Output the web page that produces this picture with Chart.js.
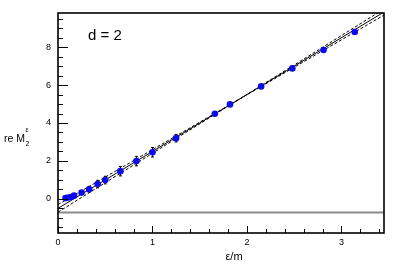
<!DOCTYPE html>
<html>
<head>
<meta charset="utf-8">
<script src="https://cdn.jsdelivr.net/npm/chart.js@4.4.1/dist/chart.umd.min.js"></script>
<style>
html,body{margin:0;padding:0;background:#fff;}
#wrap{width:407px;height:276px;}
</style>
</head>
<body>
<div id="wrap"><canvas id="c" width="407" height="276"></canvas></div>
<script>
// ---- data ----
const epsOverM = [0.08, 0.11, 0.14, 0.17, 0.25, 0.33, 0.42, 0.50, 0.66, 0.83, 1.00, 1.25, 1.66, 1.82, 2.15, 2.48, 2.81, 3.14];
const reM2     = [0.04, 0.07, 0.10, 0.17, 0.33, 0.51, 0.78, 0.99, 1.46, 1.99, 2.46, 3.20, 4.49, 4.98, 5.93, 6.88, 7.85, 8.80];
const reM2Err  = [0.03, 0.03, 0.03, 0.04, 0.08, 0.15, 0.20, 0.20, 0.25, 0.25, 0.25, 0.20, 0.08, 0.06, 0.05, 0.05, 0.05, 0.05];
const fitX      = [0, 3.45];
const fitY      = [-0.50, 9.85];
const bandAY    = [-0.30, 9.69];
const bandBY    = [-0.70, 10.01];
const refLineY  = [-0.72, -0.72];
const xTicks = [0, 1, 2, 3];
const yTicks = [0, 2, 4, 6, 8];
const xMinorStep = 0.2;
const yMinorStep = 0.5;
const xMin = 0, xMax = 3.45, yMin = -1.8, yMax = 9.8;

const toPts = (xs, ys) => xs.map((x, i) => ({x: x, y: ys[i]}));

const FONT = "'Liberation Sans', Arial, Helvetica, sans-serif";

const decor = {
  id: 'decor',
  beforeDatasetDraw(chart, args) {
    if (args.index !== 0) return;
    const {ctx, scales: {x, y}} = chart;
    ctx.save();
    ctx.strokeStyle = '#000';
    ctx.lineWidth = 1;
    epsOverM.forEach((xv, i) => {
      const px = x.getPixelForValue(xv);
      const p1 = y.getPixelForValue(reM2[i] - reM2Err[i]);
      const p2 = y.getPixelForValue(reM2[i] + reM2Err[i]);
      ctx.beginPath();
      ctx.moveTo(px, p1); ctx.lineTo(px, p2);
      ctx.moveTo(px - 1.5, p1); ctx.lineTo(px + 1.5, p1);
      ctx.moveTo(px - 1.5, p2); ctx.lineTo(px + 1.5, p2);
      ctx.stroke();
    });
    ctx.restore();
  },
  afterDraw(chart) {
    const {ctx, chartArea: a, scales: {x, y}} = chart;
    ctx.save();
    ctx.strokeStyle = '#000';
    ctx.lineWidth = 1;
    ctx.beginPath();
    for (let v = Math.ceil(yMin / yMinorStep) * yMinorStep; v <= yMax + 1e-9; v += yMinorStep) {
      const py = Math.round(y.getPixelForValue(v)) + 0.5;
      const major = yTicks.some(t => Math.abs(t - v) < 1e-6);
      ctx.moveTo(a.left, py); ctx.lineTo(a.left + (major ? 10 : 5), py);
    }
    for (let v = xMin; v <= xMax + 1e-9; v += xMinorStep) {
      const px = Math.round(x.getPixelForValue(v)) + 0.5;
      const major = xTicks.some(t => Math.abs(t - v) < 1e-6);
      ctx.moveTo(px, a.bottom); ctx.lineTo(px, a.bottom - (major ? 7 : 4));
    }
    ctx.stroke();
    ctx.lineWidth = 1.6;
    ctx.strokeRect(a.left, a.top, a.right - a.left, a.bottom - a.top);
    ctx.fillStyle = '#000';
    ctx.textBaseline = 'alphabetic';
    ctx.font = '15px ' + FONT;
    ctx.textAlign = 'left';
    ctx.fillText('d = 2', 88, 40);
    ctx.font = '11px ' + FONT;
    ctx.textAlign = 'center';
    ctx.fillText('\u03B5/m', 234, 260);
    ctx.textAlign = 'left';
    ctx.font = '10.5px ' + FONT;
    ctx.fillText('re M', 4, 142);
    const w = ctx.measureText('re M').width;
    ctx.font = '7px ' + FONT;
    ctx.fillText('2', 4 + w + 0.5, 146);
    ctx.fillText('\u03B5', 4 + w + 0.5, 132);
    ctx.restore();
  }
};

new Chart(document.getElementById('c'), {
  type: 'scatter',
  data: {
    datasets: [
      {
        label: 'data', data: toPts(epsOverM, reM2), order: 0,
        backgroundColor: 'rgb(10,10,235)', borderColor: 'rgb(10,10,235)',
        pointRadius: 3.3, pointBorderWidth: 0, showLine: false
      },
      {
        label: 'fit', data: toPts(fitX, fitY), order: 1, showLine: true,
        borderColor: '#000', borderWidth: 1, pointRadius: 0
      },
      {
        label: 'bandA', data: toPts(fitX, bandAY), order: 2, showLine: true,
        borderColor: '#000', borderWidth: 1, borderDash: [3, 2], pointRadius: 0
      },
      {
        label: 'bandB', data: toPts(fitX, bandBY), order: 3, showLine: true,
        borderColor: '#000', borderWidth: 1, borderDash: [3, 2], pointRadius: 0
      },
      {
        label: 'ref', data: toPts(fitX, refLineY), order: 4, showLine: true,
        borderColor: '#8a8a8a', borderWidth: 2, pointRadius: 0
      }
    ]
  },
  options: {
    responsive: false,
    animation: false,
    events: [],
    layout: {padding: {left: 0, right: 23, top: 13, bottom: 0}},
    plugins: {legend: {display: false}, tooltip: {enabled: false}, title: {display: false}},
    scales: {
      x: {
        type: 'linear', min: xMin, max: xMax,
        grid: {display: false, drawTicks: false}, border: {display: false},
        afterBuildTicks: s => { s.ticks = xTicks.map(v => ({value: v})); },
        afterFit: s => { s.height = 43; },
        ticks: {color: '#000', font: {family: FONT, size: 9}, padding: 4, maxRotation: 0}
      },
      y: {
        type: 'linear', min: yMin, max: yMax,
        grid: {display: false, drawTicks: false}, border: {display: false},
        afterBuildTicks: s => { s.ticks = yTicks.map(v => ({value: v})); },
        afterFit: s => { s.width = 58; },
        ticks: {color: '#000', font: {family: FONT, size: 9}, padding: 7}
      }
    }
  },
  plugins: [decor]
});
</script>
</body>
</html>
